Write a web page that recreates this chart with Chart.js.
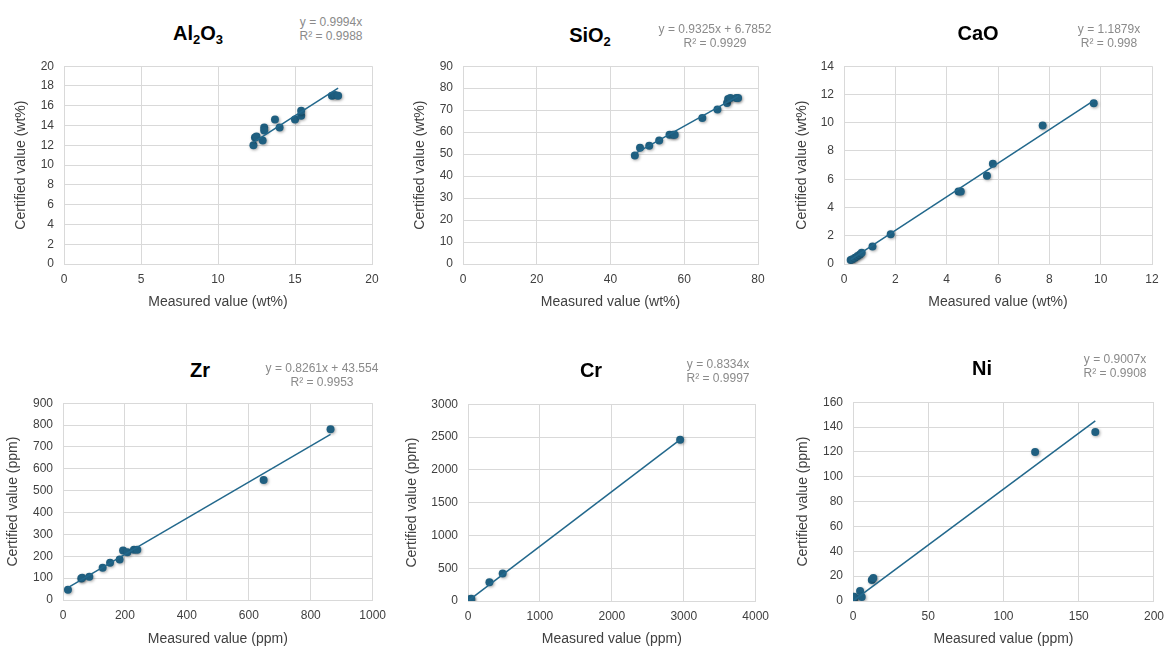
<!DOCTYPE html>
<html>
<head>
<meta charset="utf-8">
<script src="https://cdn.jsdelivr.net/npm/chart.js@4.4.0/dist/chart.umd.min.js"></script>
<style>
  html, body { margin: 0; padding: 0; background: #fff; }
  #page { position: relative; width: 1165px; height: 647px; overflow: hidden; background: #fff;
          font-family: "Liberation Sans", Arial, sans-serif; }
  canvas { position: absolute; }
  .title { position: absolute; transform: translate(-50%, -50%); font-size: 20px; font-weight: bold;
           color: #000; white-space: nowrap; }
  .title sub { font-size: 13px; vertical-align: -4px; line-height: 0; }
  .eq { position: absolute; transform: translate(-50%, -50%); font-size: 12px; color: #8a8a8a;
        white-space: nowrap; text-align: center; line-height: 14px; }
</style>
</head>
<body>
<div id="page"></div>
<script>
// ---- data ----
const al2o3Measured  = [12.3, 12.4, 12.5, 12.9, 13.0, 13.0, 13.7, 14.0, 15.0, 15.4, 15.4, 17.4, 17.6, 17.8];
const al2o3Certified = [12.0, 12.8, 12.9, 12.5, 13.8, 13.5, 14.6, 13.8, 14.6, 15.0, 15.5, 17.0, 17.1, 17.0];

const sio2Measured  = [46.6, 48.0, 50.5, 53.2, 56.0, 57.0, 57.4, 64.9, 69.0, 71.6, 71.9, 72.5, 74.1, 74.6];
const sio2Certified = [49.4, 52.9, 53.8, 56.2, 58.8, 58.8, 58.8, 66.4, 70.3, 73.3, 75.1, 75.5, 75.5, 75.5];

const caoMeasured  = [0.26, 0.33, 0.43, 0.53, 0.62, 0.69, 1.11, 1.82, 4.46, 4.55, 5.57, 5.80, 7.74, 9.73];
const caoCertified = [0.29, 0.34, 0.45, 0.56, 0.68, 0.79, 1.24, 2.10, 5.14, 5.14, 6.24, 7.10, 9.81, 11.38];

const zrMeasured  = [16, 59, 62, 85, 128, 152, 183, 194, 208, 229, 240, 648, 864];
const zrCertified = [47, 98, 102, 106, 148, 170, 185, 226, 218, 230, 230, 549, 781];

const crMeasured  = [2, 5, 8, 12, 20, 30, 45, 298, 482, 2950];
const crCertified = [1, 4, 6, 10, 15, 25, 35, 285, 421, 2458];

const niMeasured  = [0.2, 0.3, 0.5, 0.8, 4.7, 5.8, 12.5, 13.5, 121, 161];
const niCertified = [0.5, 2.2, 1.5, 3.5, 8.0, 3.3, 17.0, 18.5, 120, 136];

// trendline coefficients (slope, intercept) and labels
const slopes     = [0.9994, 0.9325, 1.1879, 0.8261, 0.8334, 0.9007];
const intercepts = [0, 6.7852, 0, 43.554, 0, 0];
const equations  = ["y = 0.9994x", "y = 0.9325x + 6.7852", "y = 1.1879x",
                    "y = 0.8261x + 43.554", "y = 0.8334x", "y = 0.9007x"];
const rSquared   = ["R² = 0.9988", "R² = 0.9929", "R² = 0.998", "R² = 0.9953", "R² = 0.9997", "R² = 0.9908"];
const titles     = ["Al<sub>2</sub>O<sub>3</sub>", "SiO<sub>2</sub>", "CaO", "Zr", "Cr", "Ni"];

// axis ranges: [max, step]
const xAxes = [[20, 5], [80, 20], [12, 2], [1000, 200], [4000, 1000], [200, 50]];
const yAxes = [[20, 2], [90, 10], [14, 2], [900, 100], [3000, 500], [160, 20]];
const xTitles = ["Measured value (wt%)", "Measured value (wt%)", "Measured value (wt%)",
                 "Measured value (ppm)", "Measured value (ppm)", "Measured value (ppm)"];
const yTitles = ["Certified value (wt%)", "Certified value (wt%)", "Certified value (wt%)",
                 "Certified value (ppm)", "Certified value (ppm)", "Certified value (ppm)"];

const measured  = [al2o3Measured, sio2Measured, caoMeasured, zrMeasured, crMeasured, niMeasured];
const certified = [al2o3Certified, sio2Certified, caoCertified, zrCertified, crCertified, niCertified];

// ---- layout of each panel (plot rectangle, y-title x, x-title y, title & equation spots) ----
const panels = [
  { L: 64,  R: 372,  T: 57,  B: 264, yt: 21,  xt: 303, tx: 198, ty: 33,  ex: 331,  ey: 29 },
  { L: 463, R: 758,  T: 57,  B: 264, yt: 420, xt: 303, tx: 590, ty: 35,  ex: 715,  ey: 36 },
  { L: 844, R: 1152, T: 57,  B: 264, yt: 802, xt: 303, tx: 978, ty: 33,  ex: 1109, ey: 36 },
  { L: 63,  R: 376,  T: 394, B: 600, yt: 13,  xt: 640, tx: 200, ty: 370, ex: 322,  ey: 375 },
  { L: 468, R: 759,  T: 395, B: 601, yt: 412, xt: 640, tx: 591, ty: 370, ex: 718,  ey: 371 },
  { L: 853, R: 1154, T: 393, B: 601, yt: 803, xt: 640, tx: 982, ty: 368, ex: 1115, ey: 366 }
];

const page = document.getElementById("page");
const FONT = "'Liberation Sans', Arial, sans-serif";
const pointColor = "#1f5f80";
const lineColor = "#22688c";
const gridColor = "#d9d9d9";

// soft shadow under the markers, like the original
const shadowPlugin = {
  id: "markerShadow",
  beforeDatasetDraw(chart, args) {
    if (args.index !== 1) return;
    const c = chart.ctx;
    c.save();
    c.shadowColor = "rgba(0,0,0,0.35)";
    c.shadowBlur = 3;
    c.shadowOffsetX = 1;
    c.shadowOffsetY = 1;
  },
  afterDatasetDraw(chart, args) {
    if (args.index !== 1) return;
    chart.ctx.restore();
  }
};

function buildPanel(i) {
  const p = panels[i];
  const x0 = Math.round(p.yt - 4 - 8.4);
  const y0 = p.T - 8;
  const bottom = Math.round(p.xt + 8.4);
  const w = p.R + 18 - x0;
  const h = bottom - y0;
  const yw = p.L - x0;
  const xh = bottom - p.B;

  const canvas = document.createElement("canvas");
  canvas.width = w;
  canvas.height = h;
  canvas.style.left = x0 + "px";
  canvas.style.top = y0 + "px";
  canvas.style.width = w + "px";
  canvas.style.height = h + "px";
  page.appendChild(canvas);

  const pts = measured[i].map((x, k) => ({ x, y: certified[i][k] }));
  const xMin = Math.min(...measured[i]);
  const xMax = Math.max(...measured[i]);
  const trend = [xMin, xMax].map(x => ({ x, y: slopes[i] * x + intercepts[i] }));

  new Chart(canvas.getContext("2d"), {
    type: "scatter",
    data: {
      datasets: [
        {
          type: "line",
          data: trend,
          borderColor: lineColor,
          borderWidth: 1.5,
          pointRadius: 0,
          fill: false
        },
        {
          data: pts,
          backgroundColor: pointColor,
          borderColor: pointColor,
          pointRadius: 4,
          pointBorderWidth: 0
        }
      ]
    },
    options: {
      responsive: false,
      animation: false,
      devicePixelRatio: 1,
      layout: { padding: { top: 8, right: 18, left: 0, bottom: 0 } },
      plugins: { legend: { display: false }, tooltip: { enabled: false } },
      scales: {
        x: {
          type: "linear",
          min: 0,
          max: xAxes[i][0],
          afterFit: s => { s.height = xh; },
          ticks: { stepSize: xAxes[i][1], padding: 8, color: "#404040", format: { useGrouping: false },
                   font: { family: FONT, size: 12 } },
          grid: { color: gridColor, drawTicks: false },
          border: { color: gridColor },
          title: { display: true, text: xTitles[i], color: "#404040", padding: { top: 0, bottom: 0 },
                   font: { family: FONT, size: 14 } }
        },
        y: {
          type: "linear",
          min: 0,
          max: yAxes[i][0],
          afterFit: s => { s.width = yw; },
          ticks: { stepSize: yAxes[i][1], padding: 10, color: "#404040", format: { useGrouping: false },
                   font: { family: FONT, size: 12 } },
          grid: { color: gridColor, drawTicks: false },
          border: { color: gridColor },
          title: { display: true, text: yTitles[i], color: "#404040", padding: { top: 4, bottom: 0 },
                   font: { family: FONT, size: 14 } }
        }
      }
    },
    plugins: [shadowPlugin]
  });

  const t = document.createElement("div");
  t.className = "title";
  t.innerHTML = titles[i];
  t.style.left = p.tx + "px";
  t.style.top = p.ty + "px";
  page.appendChild(t);

  const e = document.createElement("div");
  e.className = "eq";
  e.innerHTML = equations[i] + "<br>" + rSquared[i];
  e.style.left = p.ex + "px";
  e.style.top = p.ey + "px";
  page.appendChild(e);
}

for (let i = 0; i < panels.length; i++) buildPanel(i);
</script>
</body>
</html>
